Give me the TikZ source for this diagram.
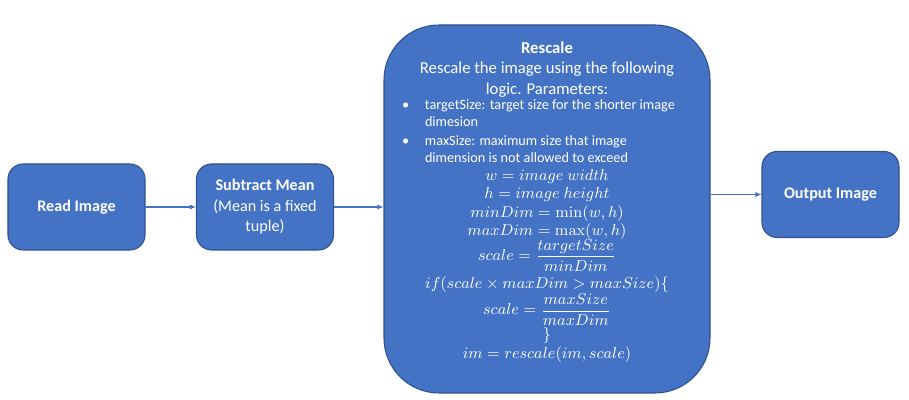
\documentclass[tikz,border=0pt]{standalone}
\usepackage[no-math]{fontspec}
\setmainfont{Carlito}
\usepackage{amsmath}
\usetikzlibrary{arrows.meta}
\definecolor{boxblue}{HTML}{4472C4}
\definecolor{edgeblue}{HTML}{2F528F}
\tikzset{
  stepbox/.style={draw=edgeblue, line width=0.6pt, fill=boxblue, text=white,
    rounded corners=0.3cm, minimum width=2.74cm, minimum height=1.72cm,
    align=center, font=\fontsize{9.2}{11.6}\selectfont},
  bigbox/.style={stepbox, rounded corners=1.1cm, minimum width=6.52cm,
    minimum height=7.36cm, font=\fontsize{9.5}{11.8}\selectfont},
  link/.style={draw=boxblue, line width=0.6pt, -{Latex[length=3.5pt,width=3pt]}}
}
\newcommand{\bulletline}[2]{\par\hangindent=0.46cm\hangafter=1\noindent\makebox[0.46cm][l]{\textbullet}#1\hfill\break#2}
\begin{document}
\begin{tikzpicture}
  \useasboundingbox (0,0) rectangle (18.18,8);
  \node[stepbox] (read) at (1.53,3.86) {\textbf{Read Image}};
  \node[stepbox] (subtract) at (5.30,3.86) {\textbf{Subtract Mean}\\(Mean is a fixed\\tuple)};
  \node[bigbox] (rescale) at (10.94,3.82) {\textbf{Rescale}\\
    Rescale the image using the following\\
    logic. Parameters:\\
    \parbox{5.8cm}{\fontsize{8.1}{9.8}\selectfont\raggedright
      \bulletline{targetSize: target size for the shorter image}{dimesion}\par\vspace{1pt}
      \bulletline{maxSize: maximum size that image}{dimension is not allowed to exceed}}\\[3pt]
    \parbox{5.8cm}{\fontsize{9.5}{10.4}\selectfont\centering\lineskiplimit=-100pt
      $w = image\ width$\\
      $h = image\ height$\\
      $minDim = \min(w,h)$\\
      $maxDim = \max(w,h)$\\[4pt]
      $scale = \dfrac{targetSize}{minDim}$\\[5.5pt]
      $if(scale \times maxDim > maxSize)\{$\\[4.5pt]
      $scale = \dfrac{maxSize}{maxDim}$\\[3.5pt]
      $\}$\\[0.5pt]
      $im = rescale(im, scale)$}\\[0.25cm]};
  \node[stepbox] (output) at (16.61,4.11) {\textbf{Output Image}};
  \draw[link] (read.east) -- (subtract.west);
  \draw[link] (subtract.east) -- (subtract.east -| rescale.west);
  \draw[link] (rescale.east |- output.west) -- (output.west);
\end{tikzpicture}
\end{document}
